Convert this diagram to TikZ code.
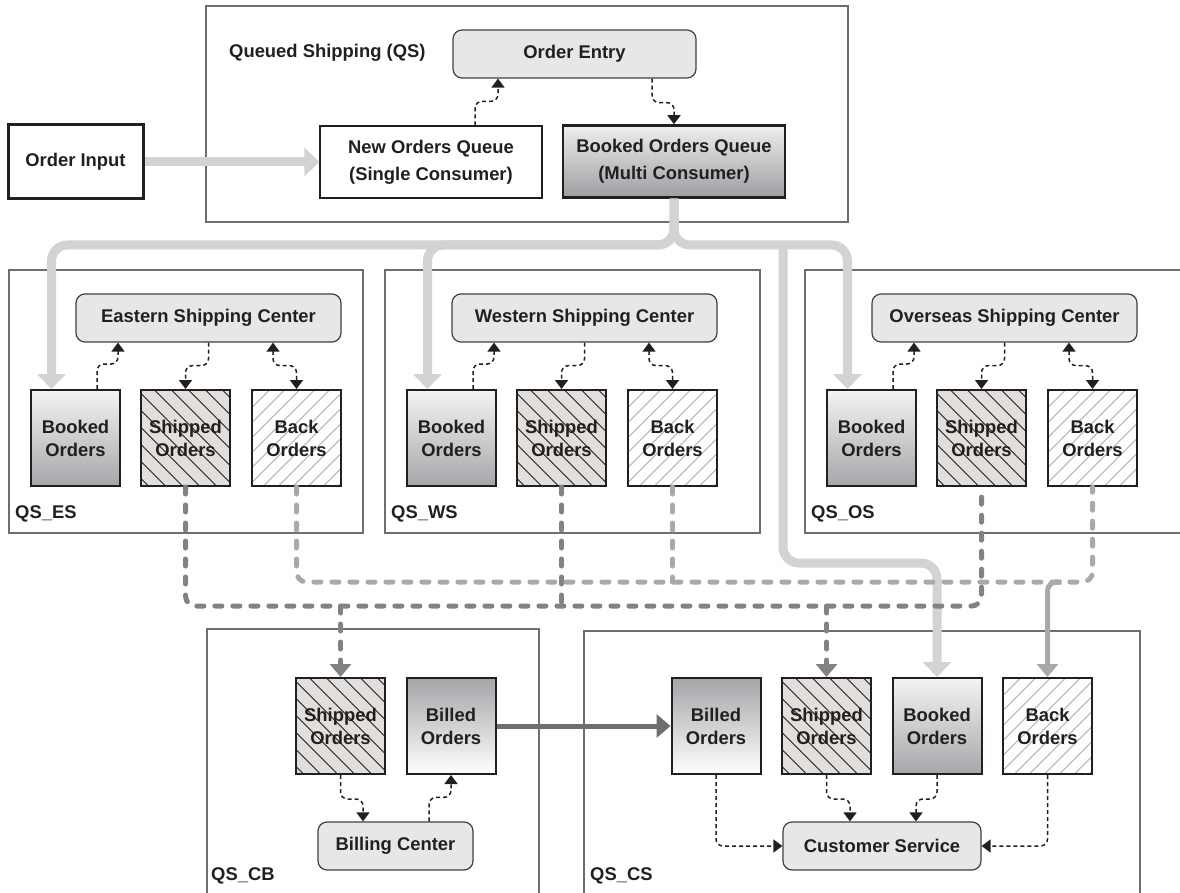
\documentclass[tikz,border=0pt]{standalone}
\usepackage{fontspec}
\setmainfont{Liberation Sans}
\usetikzlibrary{arrows.meta,calc}

\definecolor{ink}{HTML}{231F20}
\definecolor{zoneLine}{HTML}{6D6E71}
\definecolor{hubFill}{HTML}{E6E7E8}
\definecolor{hubLine}{HTML}{414042}
\definecolor{pipeGray}{HTML}{D1D3D4}
\definecolor{dashLight}{HTML}{A7A9AC}
\definecolor{dashDark}{HTML}{808285}
\definecolor{billLine}{HTML}{6D6E71}
\definecolor{shipFill}{HTML}{E2DEDB}
\definecolor{backHatch}{HTML}{B5ACA7}
\definecolor{bkTop}{HTML}{F4F4F4}
\definecolor{bkBot}{HTML}{A4A6A9}
\definecolor{blTop}{HTML}{A2A4A7}
\definecolor{bqTop}{HTML}{EEEEEE}
\definecolor{bqBot}{HTML}{9C9EA1}

\newcommand{\lbl}{\bfseries\fontsize{18.4}{23}\selectfont}
\newcommand{\qlbl}{\bfseries\fontsize{18.4}{27}\selectfont}

\tikzset{
  zone/.style={draw=zoneLine, line width=1.3pt},
  zonelbl/.style={anchor=west, inner sep=0pt, font=\lbl, text=ink},
  box/.style={draw=ink, line width=2pt, minimum width=89pt, minimum height=96pt,
    inner sep=0pt, align=center, font=\lbl, text=ink},
  booked/.style={box, top color=bkTop, bottom color=bkBot},
  billed/.style={box, top color=blTop, bottom color=white},
  shipped/.style={box, fill=shipFill, path picture={
    \foreach \k in {-8,...,8}
      \draw[ink, line width=0.9pt]
        ([shift={(\k*17pt-70pt,70pt)}]path picture bounding box.center) -- ++(140pt,-140pt);
  }},
  backord/.style={box, fill=white, path picture={
    \foreach \k in {-9,...,9}
      \draw[backHatch, line width=0.8pt]
        ([shift={(\k*15pt-70pt,-70pt)}]path picture bounding box.center) -- ++(140pt,140pt);
  }},
  hub/.style={draw=hubLine, line width=1.2pt, fill=hubFill, rounded corners=9pt,
    minimum height=48pt, inner sep=0pt, font=\lbl, text=ink},
  queuebox/.style={draw=ink, minimum height=72pt, inner sep=0pt, align=center,
    font=\qlbl, text=ink},
  pipe/.style={draw=pipeGray, line width=9pt, rounded corners=16pt,
    -{Triangle[width=28pt,length=15pt]}},
  dconn/.style={draw=ink, line width=1.5pt, dash pattern=on 4pt off 3pt,
    rounded corners=7pt, -{Triangle[width=13pt,length=9pt]}},
  dconnboth/.style={dconn, {Triangle[width=13pt,length=9pt]}-{Triangle[width=13pt,length=9pt]}},
  darkbus/.style={draw=dashDark, line width=5pt, line cap=round,
    dash pattern=on 7pt off 11pt, rounded corners=10pt},
  lightbus/.style={draw=dashLight, line width=5pt, line cap=round,
    dash pattern=on 7pt off 11pt, rounded corners=10pt},
  darkdrop/.style={darkbus, -{Triangle[width=21pt,length=13pt]}},
  lightdrop/.style={draw=dashLight, line width=5pt, rounded corners=9pt,
    -{Triangle[width=21pt,length=13pt]}},
  billarrow/.style={draw=billLine, line width=5pt, -{Triangle[width=23pt,length=14pt]}}
}

\begin{document}
\begin{tikzpicture}[x=1pt,y=-1pt]
\useasboundingbox (0,0) rectangle (1180,893);

% --- zone frames ---
\draw[zone] (206,6) rectangle (848,222);
\draw[zone] (9,270) rectangle (363,533);
\draw[zone] (385,270) rectangle (760,533);
\draw[zone] (1180,270) -- (805,270) -- (805,533) -- (1180,533);
\draw[zone] (207,893) -- (207,629) -- (539,629) -- (539,893);
\draw[zone] (584,893) -- (584,631) -- (1140,631) -- (1140,893);

% --- zone labels ---
\node[zonelbl] (lQS) at (229,53) {Queued Shipping (QS)};
\node[zonelbl] (lES) at (15,514) {QS\_ES};
\node[zonelbl] (lWS) at (391,514) {QS\_WS};
\node[zonelbl] (lOS) at (811,514) {QS\_OS};
\node[zonelbl] (lCB) at (211,876) {QS\_CB};
\node[zonelbl] (lCS) at (590,876) {QS\_CS};

% --- queued shipping ---
\node[draw=ink, line width=3pt, minimum width=135pt, minimum height=74pt,
      inner sep=0pt, font=\lbl, text=ink] (oi) at (75.5,162) {Order Input};
\node[hub, minimum width=243pt] (oe) at (574.5,54) {Order Entry};
\node[queuebox, line width=1.3pt, fill=white, minimum width=222pt] (noq) at (431,162)
  {New Orders Queue\\(Single Consumer)};
\node[queuebox, line width=2.5pt, top color=bqTop, bottom color=bqBot,
      minimum width=222pt] (bq) at (674,161.5) {Booked Orders Queue\\(Multi Consumer)};

% --- shipping centers ---
\node[hub, minimum width=265pt] (centerES) at (208.5,318) {Eastern Shipping Center};
\node[hub, minimum width=265pt] (centerWS) at (584.5,318) {Western Shipping Center};
\node[hub, minimum width=265pt] (centerOS) at (1004.5,318) {Overseas Shipping Center};

\node[booked]  (bkES) at (75.5,438)  {Booked\\Orders};
\node[shipped] (shES) at (185.5,438) {Shipped\\Orders};
\node[backord] (baES) at (296.5,438) {Back\\Orders};

\node[booked]  (bkWS) at (451.5,438) {Booked\\Orders};
\node[shipped] (shWS) at (561.5,438) {Shipped\\Orders};
\node[backord] (baWS) at (672.5,438) {Back\\Orders};

\node[booked]  (bkOS) at (871.5,438)  {Booked\\Orders};
\node[shipped] (shOS) at (981.5,438)  {Shipped\\Orders};
\node[backord] (baOS) at (1092.5,438) {Back\\Orders};

% --- billing ---
\node[shipped] (shCB) at (340.5,726) {Shipped\\Orders};
\node[billed]  (blCB) at (451,726)   {Billed\\Orders};
\node[hub, minimum width=155pt] (bc) at (395.5,846) {Billing Center};

% --- customer service ---
\node[billed]  (blCS) at (716,726)    {Billed\\Orders};
\node[shipped] (shCS) at (826.5,726)  {Shipped\\Orders};
\node[booked]  (bkCS) at (937,726)    {Booked\\Orders};
\node[backord] (baCS) at (1047.5,726) {Back\\Orders};
\node[hub, minimum width=198pt] (cs) at (882,846) {Customer Service};

% --- routing points ---
\coordinate (split) at (674,245);
\coordinate (tee) at (783,245);
\coordinate (dbus) at (0,606);
\coordinate (lbus) at (0,582);

% --- main order flow (thick grey pipes) ---
\draw[pipe] (oi.east) -- (noq.west);
\draw[pipe] (bq.south) -- (split) -| ([xshift=-24pt]bkES.north);
\draw[pipe] (bq.south) -- (split) -| ([xshift=-24pt]bkWS.north);
\draw[pipe] (bq.south) -- (split) -| ([xshift=-24pt]bkOS.north);
\draw[pipe] (tee) -- (783,563) -| (bkCS.north);

% --- shipped orders bus ---
\draw[darkbus] (shES.south) -- (shES.south |- dbus) -- (shOS.south |- dbus) -- (shOS.south);
\draw[darkbus] (shWS.south) -- (shWS.south |- dbus);
\draw[darkdrop] (shCB.north |- dbus) -- (shCB.north);
\draw[darkdrop] (shCS.north |- dbus) -- (shCS.north);

% --- back orders bus ---
\draw[lightbus] (baES.south) -- (baES.south |- lbus) -- (baOS.south |- lbus) -- (baOS.south);
\draw[lightbus] (baWS.south) -- (baWS.south |- lbus);
\draw[lightdrop] ([xshift=14pt]baCS.north |- lbus) -- (baCS.north |- lbus) -- (baCS.north);

% --- billed orders transfer ---
\draw[billarrow] (blCB.east) -- (blCS.west);

% --- local dequeue / enqueue links ---
\draw[dconn] ([xshift=44pt]noq.north) -- ++(0,-24) -| ([xshift=-76.5pt]oe.south);
\draw[dconn] ([xshift=77.5pt]oe.south) -- ++(0,24) -| (bq.north);

\foreach \z in {ES,WS,OS}{
  \draw[dconn] ([xshift=21.5pt]bk\z.north) -- ++(0,-25) -| ([xshift=-90.5pt]center\z.south);
  \draw[dconn] (center\z.south) -- ++(0,23) -| (sh\z.north);
  \draw[dconnboth] ([xshift=64.5pt]center\z.south) -- ++(0,23) -| (ba\z.north);
}

\draw[dconn] (shCB.south) -- ++(0,24) -| ([xshift=-32.5pt]bc.north);
\draw[dconn] ([xshift=33.5pt]bc.north) -- ++(0,-24) -| (blCB.south);

\draw[dconn] (blCS.south) |- (cs.west);
\draw[dconn] (baCS.south) |- (cs.east);
\draw[dconn] (shCS.south) -- ++(0,24) -| ([xshift=-32pt]cs.north);
\draw[dconn] (bkCS.south) -- ++(0,24) -| ([xshift=34pt]cs.north);
\end{tikzpicture}
\end{document}
